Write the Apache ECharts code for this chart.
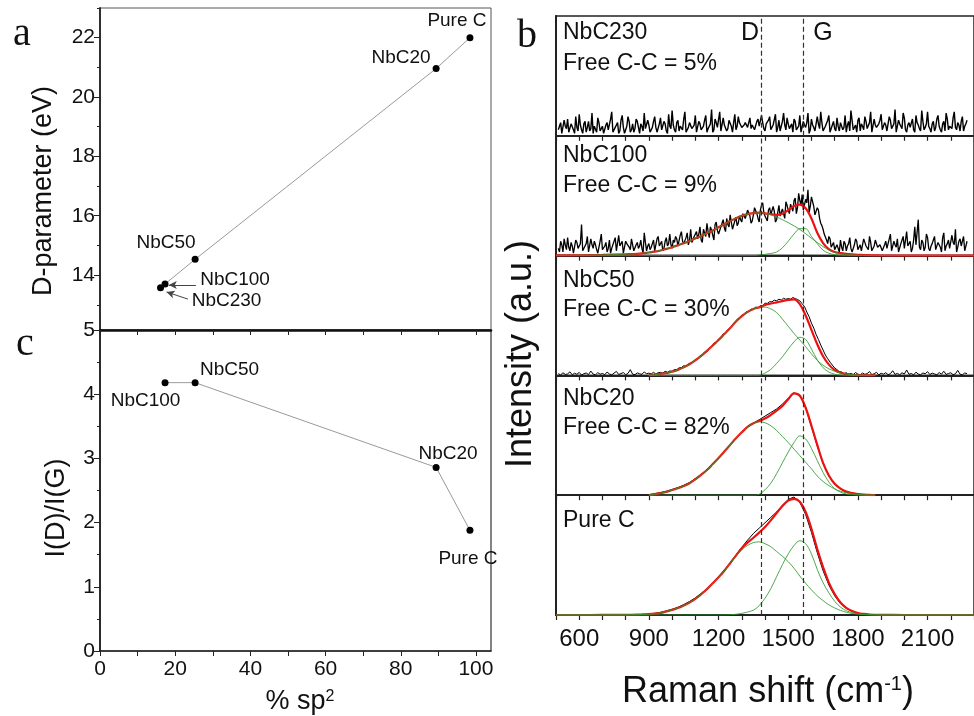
<!DOCTYPE html>
<html><head><meta charset="utf-8">
<script src="https://cdn.jsdelivr.net/npm/echarts@6/dist/echarts.min.js"></script>
<style>html,body{margin:0;padding:0;background:#fff}#c{width:974px;height:716px}</style>
</head><body><div id="c"></div>
<script>
// ---------- panel a / c data ----------
const samplesA = ['NbC230', 'NbC100', 'NbC50', 'NbC20', 'Pure C'];
const sp2A = [16.1, 17.3, 25.3, 89.4, 98.4];
const dParameter = [13.57, 13.7, 14.53, 20.96, 22.0];

const samplesC = ['NbC100', 'NbC50', 'NbC20', 'Pure C'];
const sp2C = [17.3, 25.3, 89.4, 98.4];
const ratioDG = [4.18, 4.18, 2.86, 1.88];

const ticksA_y_major = [14, 16, 18, 20, 22];
const ticksA_y_minor = [13, 15, 17, 19, 21, 23];
const ticksX = [0, 10, 20, 30, 40, 50, 60, 70, 80, 90, 100];
const labelsX = [0, 20, 40, 60, 80, 100];
const ramanLabels = [600, 900, 1200, 1500, 1800, 2100];
const bandD = 1385, bandG = 1565;

// ---------- panel b data (intensity in % of panel height) ----------
// measured spectra: sample set A at 510,520,... and set B at 515,525,...
const rawStartA = 510, rawStartB = 515, rawStep = 10;
const nbc230Raw = [5,11,3,8,14,4,9,2,7,18,5,10,3,12,6,2,9,15,4,8,
3,11,6,20,4,9,2,13,7,5,16,3,10,6,12,2,8,19,5,9,
4,12,7,3,15,6,10,2,8,21,5,11,4,9,14,3,7,12,6,17,
4,10,6,13,3,8,22,5,11,7,4,15,9,6,12,3,18,8,11,7,
9,12,8,6,10,5,14,7,11,4,9,16,6,10,3,13,8,19,5,10,
7,3,12,6,17,4,9,11,2,14,7,5,10,20,4,8,13,3,9,6,
15,4,10,7,3,12,21,5,9,13,4,8,16,6,11,3,14,7,10,18,
5,9,3,13,7,22,4,10,6,15,3,11,8,5,17,9,4,12,7,20,
6,10,4,14,8,3,12,19,5,9,15,7,11,4,16,8,13];
const nbc230RawB = [8,2,13,6,3,10,5,16,4,9,2,12,7,4,19,8,3,11,6,2,
9,5,14,3,7,11,4,17,2,8,12,5,3,14,7,10,4,6,13,3,
7,16,3,10,5,12,4,18,6,9,3,13,8,5,20,4,11,6,9,3,
12,5,8,17,6,10,3,14,7,20,5,9,4,13,8,11,5,16,9,6,
11,7,15,9,5,12,8,17,6,10,13,5,9,18,7,4,12,9,15,6,
10,14,5,8,3,12,7,19,5,9,4,16,6,11,3,9,17,6,12,4,
8,11,5,17,9,4,13,6,3,15,10,5,12,7,20,4,9,6,13,5,
11,4,16,6,10,3,13,8,19,5,9,7,14,3,11,6,21,5,10,8,
3,12,7,17,5,10,4,14,8,6,20,5,9,12,4,10];
const nbc100Raw = [6,12,3,9,15,4,8,2,11,7,26,5,10,3,14,6,9,2,12,5,
8,3,13,6,10,4,17,7,2,12,9,5,15,3,11,8,6,19,4,10,
7,13,5,16,9,4,12,8,18,6,11,14,7,20,10,15,9,22,12,17,
14,24,11,19,27,15,21,13,28,18,24,30,20,26,34,22,29,25,33,28,
36,30,39,27,34,41,31,38,44,33,29,40,35,37,30,42,34,39,45,38,
43,37,48,40,46,51,39,44,36,49,41,33,38,27,22,17,10,14,8,5,
9,3,7,12,4,10,6,2,14,5,9,3,11,7,16,4,8,13,6,10,
3,12,7,18,5,9,14,4,11,6,20,8,3,13,9,30,5,11,7,15,
4,10,16,6,12,3,19,8,13,5,11,22,7,14,9,4,12];
const nbc100RawB = [3,9,14,5,7,11,2,13,6,10,4,8,16,3,9,12,5,7,18,4,
11,6,2,9,15,5,8,12,3,10,7,14,4,9,6,13,2,11,8,5,
10,4,14,8,12,6,15,10,9,13,16,8,17,12,9,19,13,11,16,20,
18,13,22,16,20,24,17,26,21,19,27,23,31,24,28,21,32,27,30,35,
31,38,33,29,40,35,28,42,36,31,38,34,41,28,36,33,39,31,42,35,
40,46,35,52,42,38,47,55,41,45,34,40,31,25,18,13,16,7,11,4,
6,13,4,10,8,15,3,9,12,6,4,14,8,5,11,3,13,7,9,4,
9,6,14,4,12,7,3,10,16,5,8,12,6,24,10,7,13,4,18,6,
8,13,5,11,7,15,4,10,6,17,9,3,12,8,16,5];
const nbc50Raw = [1.5,0.4,2.2,0.8,1.2,3,0.5,1.8,0.9,2.5,0.3,1.4,2,0.7,3.6,1.1,0.5,2.3,1,1.6,
0.6,2.8,1.2,0.4,1.9,3.3,0.8,1.5,2.4,0.5,1.7,4.8,1,0.6,2.1,1.3,0.9,2.9,1.4,1.9,
1.2,2.6,1.1,2.3,2.5,1.9,3.4,2.6,3.7,3.5,4.9,4.8,6.3,6.5,8.1,7.6,9.6,10.5,11.3,13.4,
13.8,16.4,16.9,19.5,19.6,22.8,23.9,27,27.3,30.4,31.2,34.6,35.2,38.3,38.9,42.5,43.5,46.8,47.4,50.3,
50.7,53.1,53.2,55.4,55,57.1,56.4,58.3,58.1,60.3,60.1,61.5,61.4,62.8,62.3,63.6,62.9,64.4,63.5,64.2,
63.6,65,64.1,63.4,62.2,59.8,57.5,52.9,49,43.6,39.5,34.2,30,25.4,21.2,17,14,11.1,8.6,6.2,
4.8,3.1,2.9,1.6,2.2,1,1.7,0.6,2.4,1.1,0.5,2,0.9,1.5,3.2,0.7,1.3,2.6,0.4,1.8,
1,2.3,0.6,1.4,3.9,0.8,1.7,0.5,2.2,1.2,4.5,0.9,1.6,0.4,2.7,1.1,0.6,2,1.4,3.1,
0.7,1.9,1.2,0.5,2.4,1,3.5,0.8,1.6,2.2,0.6,1.3,4.2,1,0.5,2,1.5];

const fitX = [500,600,700,800,825,850,875,900,925,950,975,1000,1025,1050,1075,1100,1125,1150,1175,1200,1225,1250,1275,1300,1325,1350,1375,1400,1425,1450,1475,1500,1525,1550,1575,1600,1625,1650,1675,1700,1725,1750,1775,1800,1825,1850,1875,1900,2000,2300];

const nbc100D = [0.2,0.3,0.6,1.1,1.3,1.5,2,2.6,3.3,4.3,5.6,7,8.6,10.3,12.2,14.3,16.4,18.6,21,23.6,26.2,28.8,31.2,33.2,34.6,35.4,35.7,35.3,34,32.2,30,27.5,24.8,21.8,18.3,14.5,11,7.5,4.6,2.6,1.5,0.9,0.5,0.3,0.2,0.1,0.1,0,0,0];
const nbc100G = [0,0,0,0,0,0,0,0,0,0,0,0,0,0,0,0,0,0,0,0,0,0,0,0,0,0,0.5,1,1.8,3,6.5,12,18,22.5,22.5,16,10,4.5,2,0.8,0.3,0.1,0,0,0,0,0,0,0,0];
const nbc100Fit = [0.2,0.3,0.6,1.1,1.3,1.5,2,2.6,3.3,4.3,5.6,7,8.6,10.3,12.2,14.3,16.4,18.6,21,23.6,26.2,28.8,31.2,33.2,34.6,35.4,35.8,35.3,34.5,34,35,38,41.5,42.6,39.5,31,19,10.5,5.5,3,2,1.4,1,0.7,0.5,0.3,0.2,0.1,0,0];

const nbc50D = [null,null,null,null,null,null,null,0.1,0.6,1.2,2,3,4.6,6.7,9.3,12.5,16.3,20.5,25,29.5,34.5,39.5,45,49.5,53,55.5,56.8,57,55.5,52.5,47,41,35,29.5,24,18,12.5,8.5,5.5,3.5,2,1.1,0.6,0.3,0.1,0,0,null,null,null];
const nbc50G = [null,null,null,null,null,null,null,0,0,0,0,0,0,0,0,0,0,0,0,0,0,0,0,0,0,0,0,2,5,10,15.5,22,28,31.8,30,22,13,6.5,2.8,1,0.3,0.1,0,0,0,0,0,null,null,null];
const nbc50Fit = [null,null,null,null,null,null,null,0.1,0.6,1.2,2,3,4.6,6.7,9.3,12.5,16.3,20.5,25,29.5,34.5,39.5,45,49.5,53,55.5,56.8,58.8,60,61,62,63,63.5,59.5,50,38,26,16,9,4.5,2.2,1,0.5,0.2,0.1,0,0,null,null,null];

const nbc20Raw = [null,null,null,null,null,null,null,0.5,1.3,2.2,3.3,4.8,6.4,8.3,10.6,13.8,17.4,21.3,26.2,31.2,36.6,42,47.5,52.3,56.8,60.2,63,66,69,72,76,81,85.5,83.5,73.5,57,41,26.5,16,9.2,5.3,2.9,1.7,0.9,0.5,0.3,0.2,null,null,null];
const nbc20D = [null,null,null,null,null,null,null,0,0.8,1.7,2.8,4.3,5.8,7.7,10,13.3,17,21,26,31,36.5,42,47.5,52.5,57,60,61.3,60.5,58,54,49,44,38.5,33,27.5,22,16,11.5,8,5.2,3.3,2,1.2,0.6,0.3,0.1,0,null,null,null];
const nbc20G = [null,null,null,null,null,null,null,0,0,0,0,0,0,0,0,0,0,0,0,0,0,0,0,0,0,0,0.8,4.5,10,18,27,36,44,49.5,47,39,29,19,11,5.5,2.5,1,0.4,0.1,0,0,0,null,null,null];
const nbc20Fit = [null,null,null,null,null,null,null,0,0.8,1.7,2.8,4.3,5.8,7.7,10,13.3,17,21,26,31,36.5,42,47.5,52.5,57,60,62,64,67,70.5,74.5,80,85,83,73,58,42,27,16.5,9.5,5.5,3,1.8,0.9,0.4,0.2,0,null,null,null];

const pureRaw = [null,null,null,null,null,null,null,0.8,1.4,2.2,3.4,4.8,6.5,8.7,11.3,14.3,18,22,27,32,37.5,43.5,50,56.5,62.5,68,72.5,77,81.5,86,91.5,96.5,98.5,94,84,69,52,37,25,16,9.5,5.5,3,1.5,0.8,0.4,0.2,null,null,null];
const pureD = [0,0,0.05,0.15,0.2,0.3,0.5,0.7,1.1,1.8,3,4.3,5.9,8,10.5,13.5,17.3,21.5,26.5,31.5,37,43,49,54.5,58,60.5,61,59.5,57,53,49,44.5,39,32.5,26.5,21,16,12,8.5,5.9,3.8,2.3,1.3,0.7,0.4,0.2,0.1,0,0,0];
const pureG = [0,0,0,0,0,0,0,0,0,0,0,0,0,0,0,0,0,0,0,0,0,0.2,0.6,1.3,2.5,4,7.8,14,22,32,42,51,58,62,59.5,51,38,27,18.5,11.5,6.6,3.6,2,1,0.5,0.2,0.1,0,0,0];
const pureFit = [0,0,0.05,0.15,0.2,0.3,0.5,0.7,1.1,1.8,3,4.3,5.9,8,10.5,13.5,17.3,21.5,26.5,31.5,37,43.2,49.6,55.8,60.5,64.5,68.8,73.5,79,85,91,95.5,97,94.5,86,72,55,40,27,17.4,10.4,5.9,3.3,1.7,0.9,0.4,0.2,0.1,0,0];

const panelNames = ['NbC230', 'NbC100', 'NbC50', 'NbC20', 'Pure C'];
const panelNotes = ['Free C-C = 5%', 'Free C-C = 9%', 'Free C-C = 30%', 'Free C-C = 82%', ''];

// ---------- layout / styles ----------
const F = '"Liberation Sans", Arial, sans-serif';
const SERIF = '"Liberation Serif", "Times New Roman", serif';
const AX = '#222';
const panelTops = [16, 135.8, 255.6, 375.4, 495.2];
const PH = 119.8;
const labelOffA = [[66, 12.5], [70, -4.5], [-29, -17], [-35, -11], [-13, -17]];
const labelOffC = [[-19.5, 18.5], [34.5, -13], [12, -14], [-2, 28]];
const noteDy = [[17, 48], [19.7, 49.7], [24.7, 53.7], [23.7, 52.7], [25, 0]];
const rawWidth = [1.4, 1.3, 1, 1, 1];

const zip = (xs, ys) => xs.map((x, i) => [x, ys[i]]);
const interleave = (a, b) => {
  const out = [];
  a.forEach((v, i) => {
    out.push([rawStartA + i * rawStep, v]);
    if (b && i < b.length) out.push([rawStartB + i * rawStep, b[i]]);
  });
  return out;
};

const spectra = [
  { rawData: interleave(nbc230Raw, nbc230RawB) },
  { rawData: interleave(nbc100Raw, nbc100RawB), fit: nbc100Fit, D: nbc100D, G: nbc100G },
  { rawData: interleave(nbc50Raw, null), fit: nbc50Fit, D: nbc50D, G: nbc50G },
  { rawData: zip(fitX, nbc20Raw), fit: nbc20Fit, D: nbc20D, G: nbc20G },
  { rawData: zip(fitX, pureRaw), fit: pureFit, D: pureD, G: pureG }
];

const grids = [
  { left: 100, top: 8, width: 391, height: 322, show: true, borderColor: '#555', borderWidth: 1 },
  { left: 100, top: 330, width: 391, height: 321, show: true, borderColor: '#333', borderWidth: 1.2 }
];
panelTops.forEach(t => grids.push({ left: 556, top: t, width: 424.4, height: PH, show: true, borderColor: AX, borderWidth: 1.5 }));

const tickLbl = { fontFamily: F, fontSize: 21, color: '#111' };
const xAxes = [
  { gridIndex: 0, type: 'value', min: 0, max: 104,
    axisLine: { show: true, lineStyle: { color: '#111', width: 2.5 } },
    axisTick: { show: true, customValues: ticksX, length: 5, lineStyle: { color: AX } },
    axisLabel: { show: false }, splitLine: { show: false } },
  { gridIndex: 1, type: 'value', min: 0, max: 104,
    axisLine: { show: true, lineStyle: { color: AX, width: 1.5 } },
    axisTick: { show: true, customValues: ticksX, length: 5, lineStyle: { color: AX } },
    axisLabel: Object.assign({ customValues: labelsX, margin: 8, formatter: v => String(v) }, tickLbl), splitLine: { show: false } }
];
const yAxes = [
  { gridIndex: 0, type: 'value', min: 12.15, max: 23,
    axisLine: { show: true, lineStyle: { color: AX, width: 1.8 } },
    axisTick: { show: true, customValues: ticksA_y_major, length: 6, lineStyle: { color: AX } },
    axisLabel: Object.assign({ customValues: ticksA_y_major, margin: 5, formatter: v => String(v) }, tickLbl), splitLine: { show: false } },
  { gridIndex: 0, type: 'value', min: 12.15, max: 23, position: 'left',
    axisLine: { show: false },
    axisTick: { show: true, customValues: ticksA_y_minor, length: 3, lineStyle: { color: AX } },
    axisLabel: { show: false }, splitLine: { show: false } },
  { gridIndex: 1, type: 'value', min: 0, max: 5, interval: 1,
    axisLine: { show: true, lineStyle: { color: AX, width: 1.8 } },
    axisTick: { show: true, length: 6, lineStyle: { color: AX } },
    minorTick: { show: true, splitNumber: 2, length: 3, lineStyle: { color: AX } },
    axisLabel: Object.assign({ margin: 5, formatter: v => String(v) }, tickLbl), splitLine: { show: false } }
];
panelTops.forEach((t, i) => {
  xAxes.push({ gridIndex: 2 + i, type: 'value', min: 500, max: 2300, interval: 100,
    axisLine: { show: true, lineStyle: { color: AX, width: 2 } },
    axisTick: { show: true, length: 5, lineStyle: { color: AX, width: 1.2 } },
    axisLabel: i === 4 ? { customValues: ramanLabels, formatter: v => String(v), fontFamily: F, fontSize: 24, color: '#111', margin: 12 } : { show: false },
    splitLine: { show: false } });
  yAxes.push({ gridIndex: 2 + i, type: 'value', min: 0, max: 100,
    axisLine: { show: true, lineStyle: { color: AX, width: 2 } },
    axisTick: { show: false }, axisLabel: { show: false }, splitLine: { show: false } });
});

const series = [];
// panel a
series.push({
  type: 'line', xAxisIndex: 0, yAxisIndex: 0,
  data: samplesA.map((n, i) => ({ name: n, value: [sp2A[i], dParameter[i]], label: { offset: labelOffA[i] } })),
  symbol: 'circle', symbolSize: 7, itemStyle: { color: '#000' },
  lineStyle: { color: '#9a9a9a', width: 1 },
  label: { show: true, position: 'inside', formatter: p => p.name, fontFamily: F, fontSize: 19, color: '#111' },
  markLine: { silent: true, symbol: ['none', 'arrow'], symbolSize: [6, 8], label: { show: false },
    lineStyle: { color: '#444', width: 1, type: 'solid' },
    data: [[{ coord: [25.5, 13.67] }, { coord: [18.3, 13.67] }], [{ coord: [23.4, 13.19] }, { coord: [17.7, 13.43] }]] },
  z: 5
});
// panel c
series.push({
  type: 'line', xAxisIndex: 1, yAxisIndex: 2,
  data: samplesC.map((n, i) => ({ name: n, value: [sp2C[i], ratioDG[i]], label: { offset: labelOffC[i] } })),
  symbol: 'circle', symbolSize: 7, itemStyle: { color: '#000' },
  lineStyle: { color: '#9a9a9a', width: 1 },
  label: { show: true, position: 'inside', formatter: p => p.name, fontFamily: F, fontSize: 19, color: '#111' },
  z: 5
});
// panel b
spectra.forEach((s, i) => {
  const xi = 2 + i, yi = 3 + i;
  series.push({ type: 'line', xAxisIndex: xi, yAxisIndex: yi, data: s.rawData,
    showSymbol: false, symbol: 'none', lineStyle: { color: '#000', width: rawWidth[i] }, z: 2,
    markLine: { silent: true, symbol: 'none', label: { show: false },
      lineStyle: { color: '#333', width: 1.2, type: [5, 3] },
      data: [{ xAxis: bandD }, { xAxis: bandG }] } });
  if (s.fit) {
    series.push({ type: 'line', xAxisIndex: xi, yAxisIndex: yi, data: zip(fitX, s.fit), smooth: 0.35,
      showSymbol: false, symbol: 'none', lineStyle: { color: '#ee1111', width: 2.2 }, z: 3 });
    [s.D, s.G].forEach(c => series.push({ type: 'line', xAxisIndex: xi, yAxisIndex: yi, data: zip(fitX, c), smooth: 0.35,
      showSymbol: false, symbol: 'none', lineStyle: { color: '#2f9a2f', width: 1, opacity: 0.85 }, z: 4 }));
  }
});

// text annotations
const T = (text, x, y, font, extra) => Object.assign({ type: 'text', x, y, z: 100,
  style: { text, font, fill: '#111', align: 'center', verticalAlign: 'middle' } }, extra || {});
const graphic = [
  T('a', 22, 34, '40px ' + SERIF),
  T('b', 527, 36, '40px ' + SERIF),
  T('c', 25, 344, '40px ' + SERIF),
  T('D-parameter (eV)', 44, 191, '27px ' + F, { rotation: Math.PI / 2 }),
  T('I(D)/I(G)', 57, 508, '27px ' + F, { rotation: Math.PI / 2 }),
  T('Intensity (a.u.)', 521, 354, '36px ' + F, { rotation: Math.PI / 2 }),
  T('D', 750, 33, '25px ' + F),
  T('G', 823, 33, '25px ' + F),
  { type: 'text', x: 300, y: 702, z: 100, style: { text: '{a|% sp}{s|2}', align: 'center', verticalAlign: 'middle', fill: '#111',
      rich: { a: { fontFamily: F, fontSize: 27, fill: '#111' }, s: { fontFamily: F, fontSize: 16, verticalAlign: 'top', fill: '#111' } } } },
  { type: 'text', x: 768, y: 692, z: 100, style: { text: '{a|Raman shift (cm}{s|-1}{a|)}', align: 'center', verticalAlign: 'middle', fill: '#111',
      rich: { a: { fontFamily: F, fontSize: 36, fill: '#111' }, s: { fontFamily: F, fontSize: 20, verticalAlign: 'top', fill: '#111' } } } }
];
panelNames.forEach((n, i) => {
  graphic.push({ type: 'text', x: 563, y: panelTops[i] + noteDy[i][0], z: 100,
    style: { text: n, font: '23px ' + F, fill: '#111', align: 'left', verticalAlign: 'middle' } });
  if (panelNotes[i]) graphic.push({ type: 'text', x: 563, y: panelTops[i] + noteDy[i][1], z: 100,
    style: { text: panelNotes[i], font: '23px ' + F, fill: '#111', align: 'left', verticalAlign: 'middle' } });
});

const chart = echarts.init(document.getElementById('c'));
chart.setOption({ animation: false, backgroundColor: '#fff', grid: grids, xAxis: xAxes, yAxis: yAxes, series, graphic });
</script></body></html>
